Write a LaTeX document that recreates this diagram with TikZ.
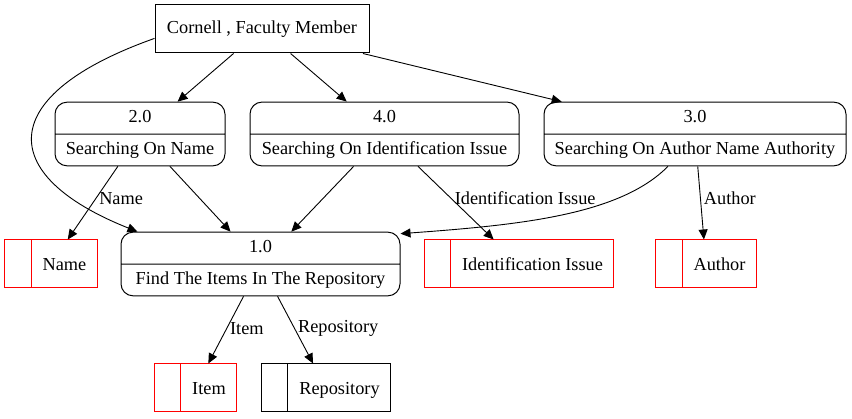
\documentclass[tikz,border=0pt]{standalone}
\usepackage{fontspec}
\setmainfont{Liberation Serif}
\usetikzlibrary{shapes.multipart, arrows.meta}

\tikzset{
    proc/.style={draw, rectangle split, rectangle split parts=2, rounded corners=12pt,
        line width=1pt, inner xsep=10pt, inner ysep=7pt, text height=13pt, text depth=4pt},
    store/.style={draw=#1, line width=1pt, inner xsep=11pt, inner ysep=15.5pt,
        text height=15pt, text depth=2pt,
        append after command={([xshift=27pt]\tikzlastnode.north west)
            edge[draw=#1, line width=1pt] ([xshift=27pt]\tikzlastnode.south west)}},
    store/.default=red,
    flow/.style={-{Triangle[length=10pt, width=9pt]}, line width=0.9pt},
    lbl/.style={anchor=west, inner sep=3pt}
}

\begin{document}
\begin{tikzpicture}[x=1pt, y=-1pt, font=\fontsize{18.3}{22}\selectfont]
    \useasboundingbox (0, 0) rectangle (852, 419);

    % External entity
    \node[draw, line width=1pt, minimum width=214pt, minimum height=48pt] (cornell) at (262, 29) {Cornell , Faculty Member};

    % Processes
    \node[proc, minimum width=170pt] (two) at (140, 134) {2.0\nodepart{two}Searching On Name};
    \node[proc, minimum width=269pt] (four) at (384.5, 134) {4.0\nodepart{two}Searching On Identification Issue};
    \node[proc, minimum width=302pt] (three) at (695, 134) {3.0\nodepart{two}Searching On Author Name Authority};
    \node[proc, minimum width=279pt] (fone) at (260.5, 264) {1.0\nodepart{two}Find The Items In The Repository};

    % Data stores
    \node[store] (sname) at (51, 264) {\hspace*{27pt}Name};
    \node[store] (sident) at (519, 264) {\hspace*{27pt}Identification Issue};
    \node[store] (sauthor) at (706, 264) {\hspace*{27pt}Author};
    \node[store] (sitem) at (195.5, 388) {\hspace*{27pt}Item};
    \node[store=black] (srepo) at (326, 388) {\hspace*{27pt}Repository};

    % Flows from the entity
    \draw[flow] (cornell) -- (two);
    \draw[flow] (cornell) -- (four);
    \draw[flow] (cornell) -- (three);
    \draw[flow] (cornell.185) .. controls (-5, 95) and (-5, 175) .. ([xshift=17pt]fone.north west);

    % Flows between processes and stores
    \draw[flow] (two) -- node[lbl, pos=0.44] {Name} (sname);
    \draw[flow] (two) -- (fone);
    \draw[flow] (four) -- (fone);
    \draw[flow] (four) -- node[lbl, pos=0.44] {Identification Issue} (sident);
    \draw[flow] ([xshift=-27pt]three.south) .. controls (620, 215) and (520, 225) .. ([yshift=-2pt]fone.north east);
    \draw[flow] (three) -- node[lbl, pos=0.44] {Author} (sauthor);
    \draw[flow] (fone) -- node[lbl, pos=0.48] {Item} (sitem);
    \draw[flow] (fone) -- node[lbl, pos=0.48] {Repository} (srepo);

\end{tikzpicture}
\end{document}
